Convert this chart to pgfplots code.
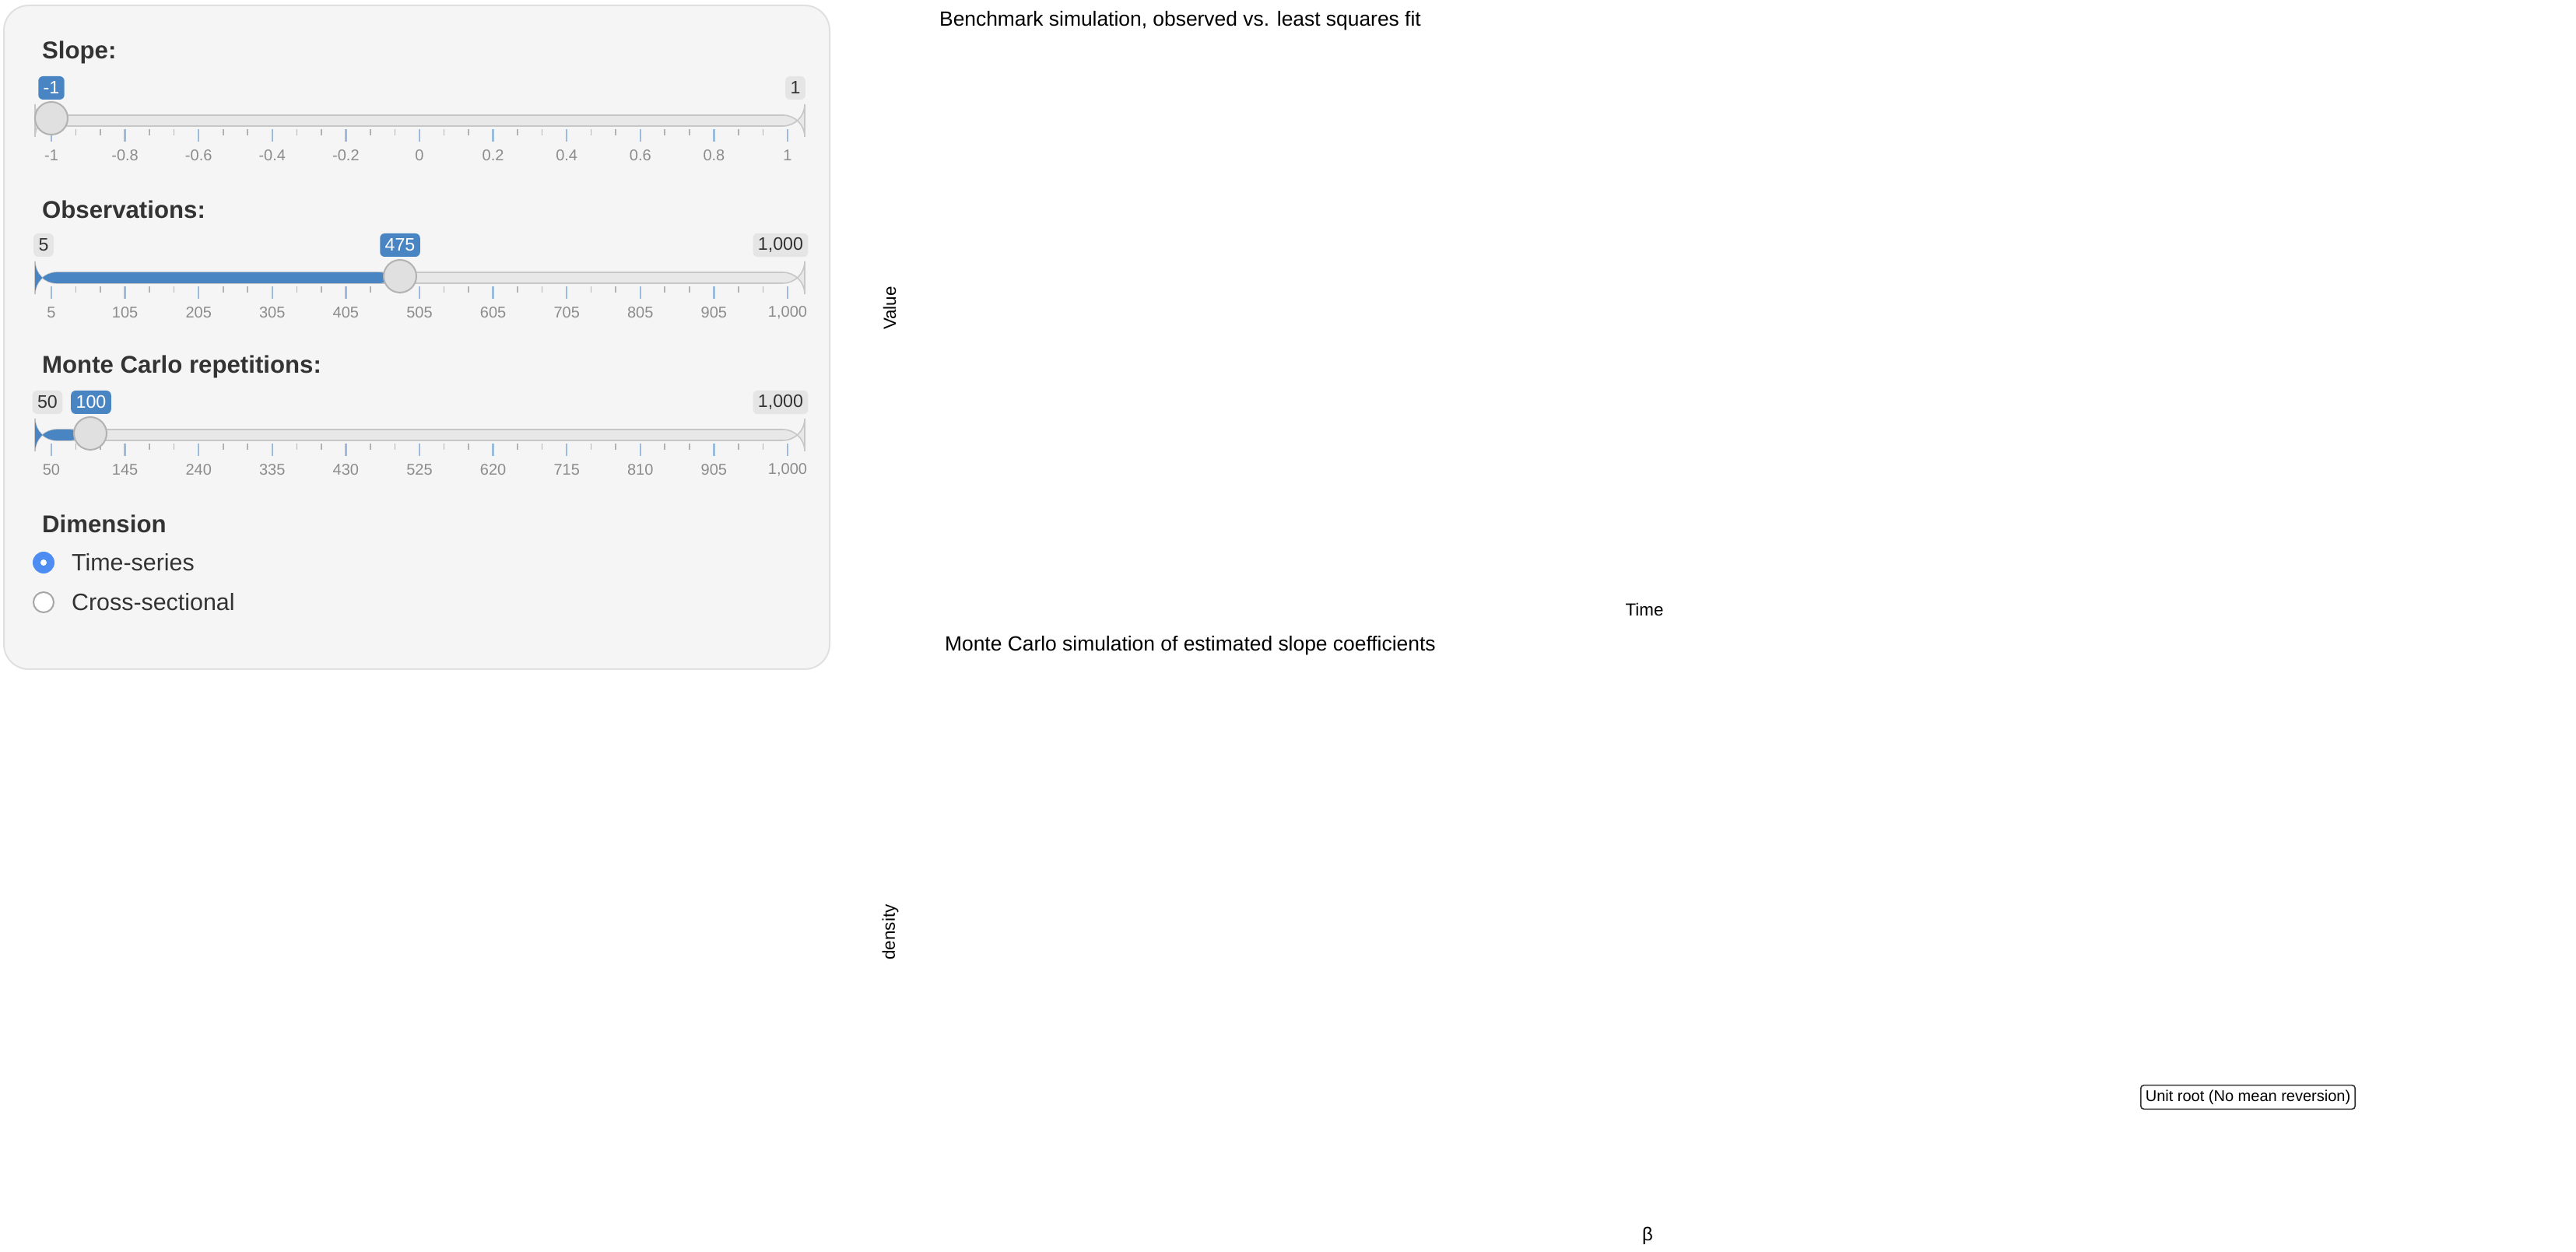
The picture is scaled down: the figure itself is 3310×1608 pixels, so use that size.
\documentclass[border=0pt]{standalone}
\usepackage{pgfplots}
\pgfplotsset{compat=1.18}
\usepackage{pgfplotstable}
\usepackage{fontspec}
\setmainfont{Liberation Sans}
\definecolor{ggmaj}{HTML}{EBEBEB}
\definecolor{ggmin}{HTML}{F3F3F3}
\definecolor{ggdark}{HTML}{333333}
\definecolor{ggtick}{HTML}{4D4D4D}
\definecolor{ggpt}{HTML}{C8C8C8}
\definecolor{sblue}{HTML}{4A85C3}
\definecolor{panelbg}{HTML}{F5F5F5}
\definecolor{panelbd}{HTML}{E0E0E0}
\definecolor{tickblue}{HTML}{9DBBDB}
\definecolor{radioblue}{HTML}{4D8CF0}
\pgfplotstableread[row sep=\\]{
y\\
0.5\\-2\\1.8\\-0.5\\1\\-1.2\\0.8\\-1.5\\1.6\\-0.9\\
0.7\\-1\\1.2\\-0.4\\0.9\\-1.6\\2\\-2.2\\2.5\\-1.8\\
2.6\\-1.5\\1\\-0.6\\1.3\\-0.8\\0.5\\-1.1\\1\\-0.7\\
1.2\\-0.8\\1.5\\-1\\2\\-1.5\\2.2\\-1.2\\1.5\\-0.9\\
1\\-0.5\\0.6\\-0.3\\0.3\\-0.6\\1.5\\-2.5\\3\\-1.5\\
2.5\\-3.5\\4.5\\-5.5\\5.6\\-6\\5\\-4.5\\4\\-3.5\\
4.5\\-5\\4.8\\-4\\5\\-5.5\\6.5\\-7\\6.8\\-6.5\\
7\\-7.5\\6.8\\-7.5\\8\\-8.5\\9\\-9.5\\9.8\\-10.5\\
10.8\\-11\\11.5\\-12\\11.8\\-11.5\\10.5\\-10\\9.8\\-9\\
8.5\\-8.6\\8.2\\-8\\7.5\\-7\\6\\-4.5\\3.2\\-1.8\\
1\\-0.6\\1.5\\-2\\1.8\\-1\\0.7\\-1.5\\2\\-2.5\\
3\\-3.5\\4\\-4.5\\4.8\\-5\\5.2\\-5.5\\5.5\\-6\\
6\\-6.5\\7\\-7.5\\7.8\\-8.2\\7.5\\-7\\6.8\\-6\\
6.2\\-6.5\\7\\-8\\8.5\\-9.5\\10\\-10.5\\11\\-11.5\\
11\\-11.2\\11.6\\-12\\11.8\\-11.4\\11.2\\-11\\12\\-12.5\\
13\\-13.2\\13\\-12.8\\13.2\\-13.5\\13\\-12\\11\\-10\\
12.5\\-12\\11\\-10\\9.5\\-9\\8.5\\-8\\7.5\\-7\\
6.5\\-6\\5.5\\-5\\4.8\\-5\\5.2\\-5.5\\5\\-4.5\\
4\\-3.5\\3\\-2.5\\2\\-1.5\\1.2\\-1\\0.8\\-1.2\\
1\\-0.6\\0.5\\-1\\0.8\\-0.5\\0.3\\-0.6\\1.2\\-1.5\\
2\\-2.5\\3\\-3.8\\4\\-4.5\\4.2\\-4.8\\5.5\\-6\\
6.5\\-6.8\\7\\-7.2\\7\\-7.5\\8\\-9\\10\\-10.5\\
11\\-11.2\\11.5\\-12\\12\\-12.5\\13\\-13.5\\13\\-14\\
14\\-14.5\\15\\-15.5\\15\\-14.5\\14\\-14.2\\14.5\\-14\\
14.2\\-13.8\\13.5\\-12.5\\12\\-11.5\\11\\-10.5\\10\\-9.5\\
9.5\\-10\\10.2\\-10.5\\11\\-11.5\\12\\-12.2\\12.5\\-12.8\\
11\\-11.5\\12\\-12.5\\12\\-12.8\\13\\-12.5\\12.8\\-13\\
13.2\\-13.5\\13.8\\-14\\14\\-13.8\\14.5\\-15\\15.2\\-15.5\\
16\\-17.5\\18\\-19\\19.5\\-20.5\\21\\-21.5\\22\\-22.5\\
23\\-23.5\\24\\-24\\24.5\\-25.5\\27\\-28\\29.5\\-30.5\\
31.5\\-32\\33\\-33.5\\34\\-35\\35.5\\-36\\36\\-36.5\\
36.5\\-36.8\\36.5\\-36\\35.5\\-35\\35.8\\-36\\35.5\\-35.5\\
36\\-35\\34.5\\-34\\34.5\\-35\\34\\-33.5\\34\\-33\\
33.5\\-34\\34.5\\-34\\35\\-35.5\\36\\-36.2\\35.8\\-36\\
36.2\\-36.5\\36.8\\-37\\37.2\\-37\\37.5\\-37.8\\38\\-38.2\\
37.5\\-38\\38.5\\-38\\37\\-36\\35.5\\-35.8\\36.5\\-37\\
37\\-37.2\\37.5\\-37\\37.8\\-38\\38.2\\-37.8\\38.5\\-39\\
38.8\\-39\\39.2\\-39\\38.5\\-39.5\\40\\-40.5\\41\\-42\\
42.5\\-43\\44\\-43\\41\\-40.5\\40\\-39.5\\39\\-38.8\\
38.5\\-38\\37.5\\-37.2\\37\\-36.8\\37.5\\-38\\37.5\\-37\\
37\\-36.5\\36\\-35.5\\36\\-35.8\\35.5\\-36\\36.5\\-36\\
37\\-38\\39\\-40\\40.5\\-41\\40.8\\-41.5\\41\\-41.5\\
42\\-42.5\\42\\-41.5\\41\\-41.5\\42\\-42.5\\43\\-43.5\\
43.5\\-43.8\\44\\-44.5\\44.5\\-44\\44.2\\-44.5\\45\\-44\\
43\\-42\\41\\-40.5\\40\\-40.2\\40.5\\-40\\41\\-41.5\\
42\\-42.2\\42.5\\-43\\43.5\\-44\\44.5\\-44.8\\45\\-45.5\\
45.5\\-46\\46.5\\-47\\47.5\\-48\\48.5\\-48\\48.2\\-48.5\\
48.5\\-48.2\\48.6\\-48\\48.5\\
}\series
\newcommand\sliderbase[2]{%
  \draw[rounded corners=7, draw=black!22, fill=black!9] (45,#1-7) rectangle (1034,#1+7);
  \foreach \j in {0,...,30}{%
    \pgfmathtruncatemacro\m{mod(\j,3)}%
    \ifnum\m=0 \draw[tickblue, line width=0.6pt] (66+31.53*\j,#1+11) -- (66+31.53*\j,#1+27);%
    \else \draw[black!30, line width=0.4pt] (66+31.53*\j,#1+11) -- (66+31.53*\j,#1+19);\fi}
  \foreach \lab [count=\i from 0] in {#2}
    \node[text=black!45, font=\fontsize{5}{6}\selectfont] at (66+94.6*\i,#1+45) {\lab};
}
\tikzset{vbox/.style={rounded corners=1.5pt, inner xsep=1.6pt, inner ysep=1.4pt, minimum height=7.5pt, font=\fontsize{5.8}{6.5}\selectfont},
 bbox/.style={vbox, fill=sblue, text=white}, gbox/.style={vbox, fill=black!10, text=ggdark},
 knob/.style={fill=black!12, draw=black!30, line width=0.5pt}}
\pgfplotsset{ggbase/.style={scale only axis, grid=both,
  major grid style={ggmaj, line width=0.6pt}, minor grid style={ggmin, line width=0.35pt},
  axis line style={ggdark, line width=0.4pt}, tick style={ggdark, line width=0.4pt},
  tick align=outside, major tick length=1.1pt, minor tick length=0pt,
  xtick pos=bottom, ytick pos=left,
  tick label style={font=\fontsize{4.6}{5}\selectfont, text=ggtick},
  /pgf/number format/assume math mode=true,
  legend cell align=left,
  legend style={draw=none, fill=none, font=\fontsize{4.4}{5}\selectfont}}}
\begin{document}
\begin{tikzpicture}[x=0.25pt,y=0.25pt]
\useasboundingbox (0,0) rectangle (3310,1608);
% ---------- top chart
\begin{axis}[ggbase, at={(1198,869)}, anchor=south west, width=457.5pt, height=171.5pt,
  xmin=-22.6, xmax=501.7, ymin=-53.1, ymax=53.1,
  xtick={0,100,200,300,400}, minor xtick={50,150,250,350,450},
  ytick={-50,-25,0,25,50}, minor ytick={-37.5,-12.5,12.5,37.5},
  legend style={at={(1,0.478)}, anchor=west, xshift=6pt, row sep=1.6pt},
  legend image code/.code={\draw[mark repeat=2,mark phase=2,#1] plot coordinates {(0pt,0pt) (3.5pt,0pt) (7pt,0pt)};}]
\addlegendimage{ggdark, line width=0.5pt, mark=*, mark size=0.9pt}
\addlegendentry{Least squares AR(1)-fit}
\addlegendimage{ggpt, line width=0.5pt, mark=*, mark size=0.9pt}
\addlegendentry{Observed value}
\addplot[only marks, mark=*, mark size=1.25pt, ggpt, forget plot] table[x expr=\coordindex+1, y index=0] {\series};
\addplot[ggdark, line width=0.45pt, forget plot] table[x expr=\coordindex+1, y index=0] {\series};
\node[draw=ggdark, fill=white, rounded corners=1pt, inner sep=1.5pt, font=\fontsize{5}{6}\selectfont] at (axis cs:118.6,43.2) {Unit root (No mean reversion)};
\end{axis}
% ---------- bottom chart
\begin{axis}[ggbase, at={(1203,66)}, anchor=south west, width=456.75pt, height=172pt,
  xmin=-8.6, xmax=128.4, ymin=-10.6, ymax=231.7,
  xtick={0,40,80,120}, minor xtick={20,60,100},
  ytick={0,50,100,150,200}, minor ytick={25,75,125,175,225},
  legend style={at={(1,0.5)}, anchor=west, xshift=9.3pt, row sep=-0.2pt, inner xsep=0pt},
  legend image code/.code={\fill[#1] (0pt,-4.4pt) rectangle (7.75pt,4.4pt);}]
\addlegendimage{fill=ggdark, draw=none}
\addlegendentry{Kernel Density}
\addlegendimage{fill=black!20, draw=none}
\addlegendentry{Monte Carlo simulations}
\addplot[black!20, line width=1pt, forget plot] coordinates {(-1.5,0) (122,0)};
\addplot[ggdark, line width=0.5pt, forget plot] coordinates {(-1.3,0) (-1.05,500) (-0.6,14) (-0.4,0) (119,0)};
\addplot[ggdark, line width=0.8pt, forget plot] coordinates {(-0.4,0) (119,0)};
\node[font=\fontsize{5}{6}\selectfont] at (axis cs:-0.9,0) {Mean: -1};
\end{axis}
\begin{scope}
\clip (1203,66) rectangle (3030,754);
\node[draw=ggdark, fill=white, rounded corners=1pt, inner sep=1.5pt, anchor=west, font=\fontsize{5}{6}\selectfont] at (2750,198) {Unit root (No mean reversion)};
\end{scope}
% ---------- texts and panel (y down)
\begin{scope}[shift={(0,1608)}, yscale=-1]
\node[anchor=west, text=black, font=\fontsize{6.6}{7}\selectfont] at (1193,27) {Benchmark simulation, observed vs. least squares fit};
\node[rotate=90, font=\fontsize{5.6}{6}\selectfont] at (1143,396) {Value};
\node[font=\fontsize{5.6}{6}\selectfont] at (2113,783) {Time};
\node[anchor=west, font=\fontsize{6.6}{7}\selectfont] at (1200,830) {Monte Carlo simulation of estimated slope coefficients};
\node[rotate=90, font=\fontsize{5.6}{6}\selectfont] at (1144,1198) {density};
\node[font=\fontsize{6}{7}\selectfont] at (2117,1588) {β};
% panel
\draw[fill=panelbg, draw=panelbd, rounded corners=8, line width=0.5pt] (5,7) rectangle (1066,860);
\node[anchor=west, text=ggdark, font=\fontsize{7.8}{9}\selectfont\bfseries] at (40,67) {Slope:};
\sliderbase{155}{-1,-0.8,-0.6,-0.4,-0.2,0,0.2,0.4,0.6,0.8,1}
\draw[knob] (66,152) circle (21);
\node[bbox] at (66,113) {-1};
\node[gbox] at (1022,113) {1};
\node[anchor=west, text=ggdark, font=\fontsize{7.8}{9}\selectfont\bfseries] at (40,269) {Observations:};
\sliderbase{357}{5,105,205,305,405,505,605,705,805,905,{1,000}}
\fill[sblue, rounded corners=7] (45,350) rectangle (514,364);
\draw[knob] (514,355) circle (21);
\node[gbox] at (56,315) {5};
\node[bbox] at (514,315) {475};
\node[gbox] at (1003,315) {1,000};
\node[anchor=west, text=ggdark, font=\fontsize{7.8}{9}\selectfont\bfseries] at (40,471) {Monte Carlo repetitions:};
\sliderbase{559}{50,145,240,335,430,525,620,715,810,905,{1,000}}
\fill[sblue, rounded corners=7] (45,552) rectangle (116,566);
\draw[knob] (116,557) circle (21);
\node[gbox] at (61,517) {50};
\node[bbox] at (117,517) {100};
\node[gbox] at (1003,517) {1,000};
\node[anchor=west, text=ggdark, font=\fontsize{7.8}{9}\selectfont\bfseries] at (40,673) {Dimension};
\fill[radioblue] (56,723) circle (14);
\fill[white] (56,723) circle (4);
\node[anchor=west, text=ggdark, font=\fontsize{7.6}{9}\selectfont] at (78,723) {Time-series};
\draw[fill=white, draw=black!35, line width=0.5pt] (56,774) circle (13);
\node[anchor=west, text=ggdark, font=\fontsize{7.6}{9}\selectfont] at (78,774) {Cross-sectional};
\end{scope}
\end{tikzpicture}
\end{document}
